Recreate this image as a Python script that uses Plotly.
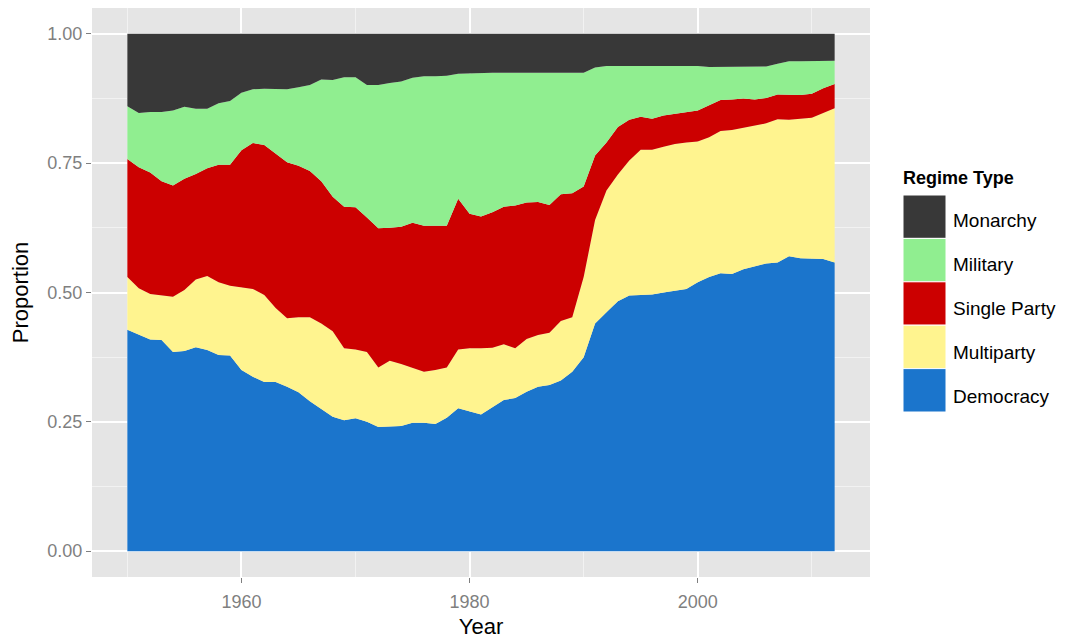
import plotly.graph_objects as go

years = list(range(1950, 2013))

democracy = [0.428, 0.418, 0.409, 0.408, 0.385, 0.387, 0.394, 0.389, 0.379, 0.378,
             0.350, 0.337, 0.327, 0.327, 0.318, 0.307, 0.290, 0.275, 0.260, 0.253,
             0.257, 0.250, 0.240, 0.241, 0.242, 0.248, 0.248, 0.246, 0.258, 0.276,
             0.270, 0.264, 0.278, 0.292, 0.296, 0.308, 0.318, 0.321, 0.330, 0.347,
             0.375, 0.440, 0.462, 0.483, 0.494, 0.495, 0.496, 0.500, 0.503, 0.507,
             0.520, 0.530, 0.537, 0.536, 0.545, 0.550, 0.556, 0.558, 0.570, 0.566,
             0.565, 0.565, 0.558]

multiparty = [0.102, 0.090, 0.088, 0.087, 0.107, 0.118, 0.131, 0.143, 0.141, 0.135,
              0.160, 0.170, 0.168, 0.143, 0.132, 0.145, 0.162, 0.165, 0.165, 0.139,
              0.133, 0.135, 0.115, 0.127, 0.120, 0.107, 0.099, 0.104, 0.097, 0.114,
              0.122, 0.128, 0.115, 0.108, 0.096, 0.102, 0.100, 0.101, 0.115, 0.105,
              0.155, 0.200, 0.235, 0.245, 0.261, 0.281, 0.280, 0.282, 0.284, 0.283,
              0.272, 0.270, 0.275, 0.278, 0.273, 0.272, 0.271, 0.277, 0.264, 0.270,
              0.273, 0.282, 0.298]

single_party = [0.228, 0.234, 0.235, 0.220, 0.215, 0.215, 0.204, 0.208, 0.227, 0.234,
                0.265, 0.282, 0.290, 0.298, 0.302, 0.293, 0.283, 0.275, 0.260, 0.274,
                0.275, 0.260, 0.269, 0.257, 0.265, 0.280, 0.282, 0.279, 0.274, 0.291,
                0.260, 0.255, 0.262, 0.266, 0.276, 0.264, 0.257, 0.247, 0.245, 0.240,
                0.175, 0.125, 0.093, 0.092, 0.079, 0.064, 0.060, 0.060, 0.058, 0.059,
                0.060, 0.062, 0.060, 0.059, 0.057, 0.051, 0.049, 0.048, 0.048, 0.046,
                0.046, 0.048, 0.047]

military = [0.102, 0.105, 0.117, 0.134, 0.145, 0.139, 0.126, 0.115, 0.119, 0.123,
            0.111, 0.104, 0.109, 0.125, 0.141, 0.152, 0.166, 0.197, 0.226, 0.250,
            0.251, 0.256, 0.277, 0.280, 0.281, 0.280, 0.289, 0.289, 0.290, 0.242,
            0.272, 0.278, 0.270, 0.259, 0.257, 0.251, 0.250, 0.256, 0.235, 0.233,
            0.220, 0.170, 0.148, 0.118, 0.104, 0.098, 0.102, 0.096, 0.093, 0.089,
            0.086, 0.074, 0.064, 0.063, 0.061, 0.064, 0.061, 0.059, 0.065, 0.065,
            0.063, 0.053, 0.045]

monarchy = [0.140, 0.153, 0.151, 0.151, 0.148, 0.141, 0.145, 0.145, 0.134, 0.130,
            0.114, 0.107, 0.106, 0.107, 0.107, 0.103, 0.099, 0.088, 0.089, 0.084,
            0.084, 0.099, 0.099, 0.095, 0.092, 0.085, 0.082, 0.082, 0.081, 0.077,
            0.076, 0.075, 0.075, 0.075, 0.075, 0.075, 0.075, 0.075, 0.075, 0.075,
            0.075, 0.065, 0.062, 0.062, 0.062, 0.062, 0.062, 0.062, 0.062, 0.062,
            0.062, 0.064, 0.064, 0.064, 0.064, 0.063, 0.063, 0.058, 0.053, 0.053,
            0.053, 0.052, 0.052]

series_names = ["Democracy", "Multiparty", "Single Party", "Military", "Monarchy"]
series_values = [democracy, multiparty, single_party, military, monarchy]
series_colors = ["#1B75CC", "#FFF48F", "#CC0000", "#90EE90", "#383838"]

x_ticks = [1960, 1980, 2000]
x_minor = [1950, 1970, 1990, 2010]
y_ticks = [0.0, 0.25, 0.5, 0.75, 1.0]
y_minor = [0.125, 0.375, 0.625, 0.875]

fig = go.Figure()
for name, vals, col in zip(series_names, series_values, series_colors):
    fig.add_trace(go.Scatter(
        x=years, y=vals, name=name, mode="lines",
        stackgroup="one", line=dict(width=0, color=col),
        fillcolor=col, showlegend=False,
    ))

FONT = "Liberation Sans, Arial, sans-serif"

# page body has an 8px margin, so the figure is offset by (8, 8)
ML, MT, PW, PH = 84, 0, 778, 569
W, H = 1067, 639

fig.update_layout(
    width=W, height=H,
    margin=dict(l=ML, r=W - ML - PW, t=MT, b=H - MT - PH),
    paper_bgcolor="white",
    plot_bgcolor="#E5E5E5",
    font=dict(family=FONT, color="black"),
    xaxis=dict(
        range=[1946.9, 2015.1], tickvals=x_ticks, ticks="outside", ticklen=5,
        tickcolor="#7F7F7F", tickwidth=1, ticklabelstandoff=3,
        tickfont=dict(size=18, color="#7F7F7F", family=FONT),
        showgrid=True, gridcolor="white", gridwidth=1.6, zeroline=False,
        showline=False,
        minor=dict(tickvals=x_minor, showgrid=True, gridcolor="#F2F2F2", gridwidth=0.8, ticks=""),
        title=dict(text="Year", font=dict(size=22, color="black", family=FONT), standoff=8),
    ),
    yaxis=dict(
        range=[-0.05, 1.05], tickvals=y_ticks, tickformat=".2f", ticks="outside", ticklen=5,
        tickcolor="#7F7F7F", tickwidth=1,
        tickfont=dict(size=18, color="#7F7F7F", family=FONT),
        showgrid=True, gridcolor="white", gridwidth=1.6, zeroline=False,
        showline=False,
        minor=dict(tickvals=y_minor, showgrid=True, gridcolor="#F2F2F2", gridwidth=0.8, ticks=""),
        title=dict(text="Proportion", font=dict(size=22, color="black", family=FONT), standoff=12),
    ),
)

# custom ggplot-style legend (top item = top of stack); positions in page pixels
def px_x(px):
    return (px - 8 - ML) / float(PW)

def px_y(py):
    return (8 + MT + PH - py) / float(PH)

fig.add_annotation(
    x=px_x(901), y=px_y(178), xref="paper", yref="paper", xanchor="left", yanchor="middle",
    text="<b>Regime Type</b>", showarrow=False, font=dict(size=18, color="black", family=FONT),
)
legend_order = list(zip(series_names, series_colors))[::-1]
key_top = 195.0
key_h = 43.4
label_top = 220.0
label_step = 44.2
for i, (name, col) in enumerate(legend_order):
    y0 = key_top + i * key_h
    fig.add_shape(
        type="rect", xref="paper", yref="paper",
        x0=px_x(903), x1=px_x(946), y0=px_y(y0 + key_h), y1=px_y(y0),
        fillcolor=col, line=dict(color="white", width=1), layer="above",
    )
    fig.add_annotation(
        x=px_x(951), y=px_y(label_top + i * label_step), xref="paper", yref="paper",
        xanchor="left", yanchor="middle", text=name, showarrow=False,
        font=dict(size=19, color="black", family=FONT),
    )

fig.write_html("out.html")
